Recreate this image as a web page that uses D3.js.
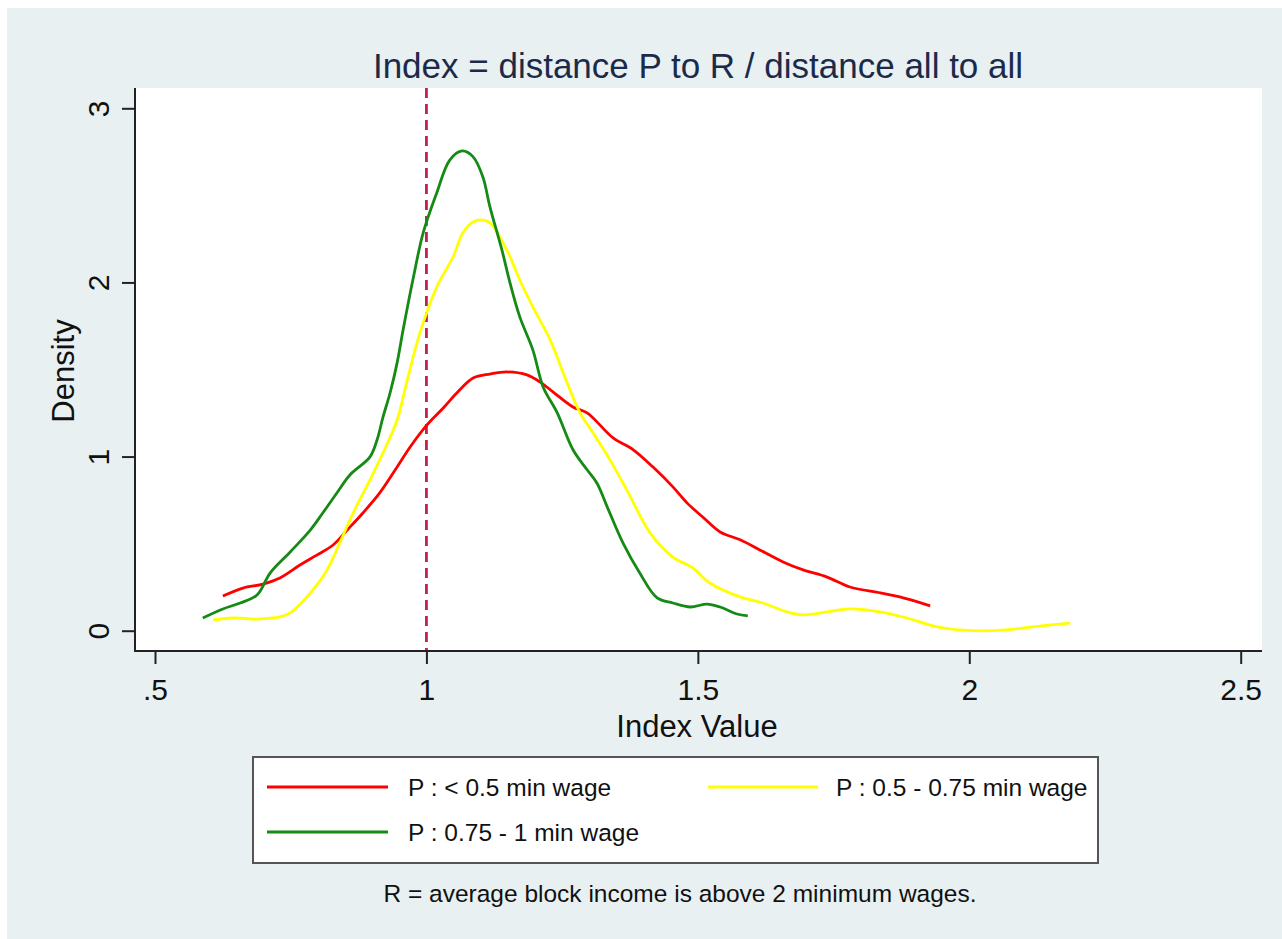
<!DOCTYPE html>
<html>
<head>
<meta charset="utf-8">
<script src="https://cdn.jsdelivr.net/npm/d3@7"></script>
<style>
	body { margin: 0; background: #fff; }
	svg text { font-family: 'Liberation Sans', Arial, sans-serif; }
</style>
</head>
<body>
<div id="chart"></div>
<script>
const width = 1282;
const height = 939;

// data (index value, density)
const xTicks = [0.5, 1, 1.5, 2, 2.5];
const xTickLabels = ['.5', '1', '1.5', '2', '2.5'];
const yTicks = [0, 1, 2, 3];
const refLine = 1;

const seriesNames = ['P : < 0.5 min wage', 'P : 0.5 - 0.75 min wage', 'P : 0.75 - 1 min wage'];
const seriesColors = ['#ff0000', '#ffff00', '#158a15'];

const redX = [0.625, 0.662, 0.699, 0.73, 0.767, 0.798, 0.828, 0.854, 0.883, 0.914, 0.946, 0.97, 1.001, 1.031, 1.056, 1.086, 1.117, 1.148, 1.185, 1.209, 1.233, 1.27, 1.296, 1.344, 1.381, 1.417, 1.454, 1.48, 1.509, 1.541, 1.578, 1.614, 1.657, 1.694, 1.738, 1.78, 1.836, 1.872, 1.928];
const redY = [0.199, 0.245, 0.268, 0.303, 0.377, 0.434, 0.492, 0.578, 0.676, 0.791, 0.94, 1.055, 1.182, 1.279, 1.365, 1.451, 1.474, 1.486, 1.469, 1.429, 1.372, 1.285, 1.251, 1.107, 1.039, 0.941, 0.826, 0.734, 0.653, 0.567, 0.522, 0.464, 0.395, 0.349, 0.308, 0.251, 0.217, 0.194, 0.143];

const yellowX = [0.607, 0.644, 0.688, 0.73, 0.749, 0.791, 0.817, 0.841, 0.865, 0.896, 0.92, 0.946, 0.964, 0.988, 1.019, 1.049, 1.067, 1.086, 1.099, 1.117, 1.148, 1.172, 1.196, 1.228, 1.252, 1.283, 1.307, 1.338, 1.369, 1.412, 1.454, 1.491, 1.522, 1.578, 1.62, 1.664, 1.694, 1.738, 1.78, 1.836, 1.885, 1.941, 1.988, 2.062, 2.117, 2.186];
const yellowY = [0.062, 0.073, 0.067, 0.079, 0.102, 0.234, 0.349, 0.509, 0.676, 0.866, 1.021, 1.21, 1.43, 1.71, 1.974, 2.146, 2.284, 2.347, 2.359, 2.342, 2.187, 2.014, 1.859, 1.67, 1.48, 1.251, 1.136, 0.981, 0.809, 0.562, 0.423, 0.36, 0.274, 0.194, 0.159, 0.108, 0.091, 0.108, 0.125, 0.108, 0.073, 0.022, 0.003, 0.003, 0.022, 0.044];

const greenX = [0.588, 0.625, 0.657, 0.688, 0.712, 0.749, 0.786, 0.809, 0.835, 0.859, 0.896, 0.909, 0.92, 0.933, 0.946, 0.957, 0.975, 0.994, 1.019, 1.043, 1.066, 1.086, 1.104, 1.117, 1.139, 1.154, 1.172, 1.196, 1.215, 1.241, 1.27, 1.296, 1.314, 1.333, 1.362, 1.393, 1.425, 1.454, 1.486, 1.517, 1.541, 1.572, 1.592];
const greenY = [0.073, 0.125, 0.159, 0.205, 0.331, 0.452, 0.578, 0.676, 0.791, 0.894, 0.998, 1.095, 1.227, 1.365, 1.538, 1.727, 2.014, 2.284, 2.514, 2.703, 2.755, 2.721, 2.606, 2.434, 2.187, 1.997, 1.802, 1.613, 1.4, 1.251, 1.039, 0.924, 0.848, 0.711, 0.504, 0.331, 0.188, 0.159, 0.136, 0.153, 0.136, 0.096, 0.085];

const series = [
	{ name: seriesNames[0], color: seriesColors[0], values: redX.map((x, i) => ({ x: x, y: redY[i] })) },
	{ name: seriesNames[1], color: seriesColors[1], values: yellowX.map((x, i) => ({ x: x, y: yellowY[i] })) },
	{ name: seriesNames[2], color: seriesColors[2], values: greenX.map((x, i) => ({ x: x, y: greenY[i] })) },
];

const svg = d3.select('#chart').append('svg').attr('width', width).attr('height', height);

// outer background
svg.append('rect').attr('x', 7).attr('y', 8).attr('width', width - 7).attr('height', height - 8).attr('fill', '#e8f0f2');

// plot region
const region = { left: 135, right: 1262, top: 88, bottom: 651 };
svg.append('rect')
	.attr('x', region.left)
	.attr('y', region.top)
	.attr('width', region.right - region.left)
	.attr('height', region.bottom - region.top)
	.attr('fill', '#fff');

const x = d3.scaleLinear().domain([0.5, 2.5]).range([155, 1240.7]);
const y = d3.scaleLinear().domain([0, 3]).range([630.7, 108.3]);

// reference line at 1
svg.append('line')
	.attr('x1', x(refLine))
	.attr('x2', x(refLine))
	.attr('y1', region.top)
	.attr('y2', region.bottom)
	.attr('stroke', '#c4204f')
	.attr('stroke-width', 2.8)
	.attr('stroke-dasharray', '10,6');

// density curves
const line = d3.line()
	.x((d) => x(d.x))
	.y((d) => y(d.y))
	.curve(d3.curveCatmullRom);

svg.append('g')
	.selectAll('path')
	.data(series)
	.join('path')
	.attr('d', (d) => line(d.values))
	.attr('fill', 'none')
	.attr('stroke', (d) => d.color)
	.attr('stroke-width', 2.8)
	.attr('stroke-linejoin', 'round');

// axes
const xAxis = svg.append('g')
	.attr('transform', `translate(0,${region.bottom})`)
	.call(d3.axisBottom(x).tickValues(xTicks).tickSize(13).tickPadding(15).tickFormat((d, i) => xTickLabels[i]));
xAxis.select('.domain').remove();
xAxis.selectAll('line').attr('stroke', '#222').attr('stroke-width', 2);
xAxis.selectAll('text').attr('font-size', 30).attr('fill', '#111').attr('font-family', "'Liberation Sans', Arial, sans-serif");

const yAxis = svg.append('g')
	.attr('transform', `translate(${region.left},0)`)
	.call(d3.axisLeft(y).tickValues(yTicks).tickSize(13).tickFormat(d3.format('d')));
yAxis.select('.domain').remove();
yAxis.selectAll('line').attr('stroke', '#222').attr('stroke-width', 2);
yAxis.selectAll('text')
	.attr('x', 0)
	.attr('dy', 0)
	.attr('font-size', 30)
	.attr('fill', '#111')
	.attr('font-family', "'Liberation Sans', Arial, sans-serif")
	.attr('text-anchor', 'middle')
	.attr('transform', 'translate(-26,0) rotate(-90)');

svg.append('line')
	.attr('x1', region.left).attr('x2', region.left)
	.attr('y1', region.top).attr('y2', region.bottom + 1)
	.attr('stroke', '#222').attr('stroke-width', 2);
svg.append('line')
	.attr('x1', region.left - 1).attr('x2', region.right)
	.attr('y1', region.bottom).attr('y2', region.bottom)
	.attr('stroke', '#222').attr('stroke-width', 2);

// titles
svg.append('text')
	.attr('x', 698)
	.attr('y', 78)
	.attr('text-anchor', 'middle')
	.attr('font-size', 35)
	.attr('fill', '#1c2a4a')
	.text('Index = distance P to R / distance all to all');

svg.append('text')
	.attr('x', 697)
	.attr('y', 737)
	.attr('text-anchor', 'middle')
	.attr('font-size', 31)
	.attr('fill', '#111')
	.text('Index Value');

svg.append('text')
	.attr('transform', 'translate(74,371) rotate(-90)')
	.attr('text-anchor', 'middle')
	.attr('font-size', 31)
	.attr('fill', '#111')
	.text('Density');

// legend
const legend = svg.append('g');
legend.append('rect')
	.attr('x', 253)
	.attr('y', 757)
	.attr('width', 845)
	.attr('height', 106)
	.attr('fill', '#fff')
	.attr('stroke', '#555')
	.attr('stroke-width', 2);

const legendPos = [
	{ lx: 267, ly: 787, tx: 408 },
	{ lx: 708, ly: 787, tx: 836 },
	{ lx: 267, ly: 832, tx: 408 },
];

const items = legend.selectAll('g.item')
	.data(series)
	.join('g')
	.attr('class', 'item');

items.append('line')
	.attr('x1', (d, i) => legendPos[i].lx)
	.attr('x2', (d, i) => legendPos[i].lx + (i === 1 ? 110 : 121))
	.attr('y1', (d, i) => legendPos[i].ly)
	.attr('y2', (d, i) => legendPos[i].ly)
	.attr('stroke', (d) => d.color)
	.attr('stroke-width', 2.8);

items.append('text')
	.attr('x', (d, i) => legendPos[i].tx)
	.attr('y', (d, i) => legendPos[i].ly + 9)
	.attr('font-size', 24.5)
	.attr('fill', '#111')
	.text((d) => d.name);

// note
svg.append('text')
	.attr('x', 680)
	.attr('y', 902)
	.attr('text-anchor', 'middle')
	.attr('font-size', 24.5)
	.attr('fill', '#111')
	.text('R = average block income is above 2 minimum wages.');
</script>
</body>
</html>
